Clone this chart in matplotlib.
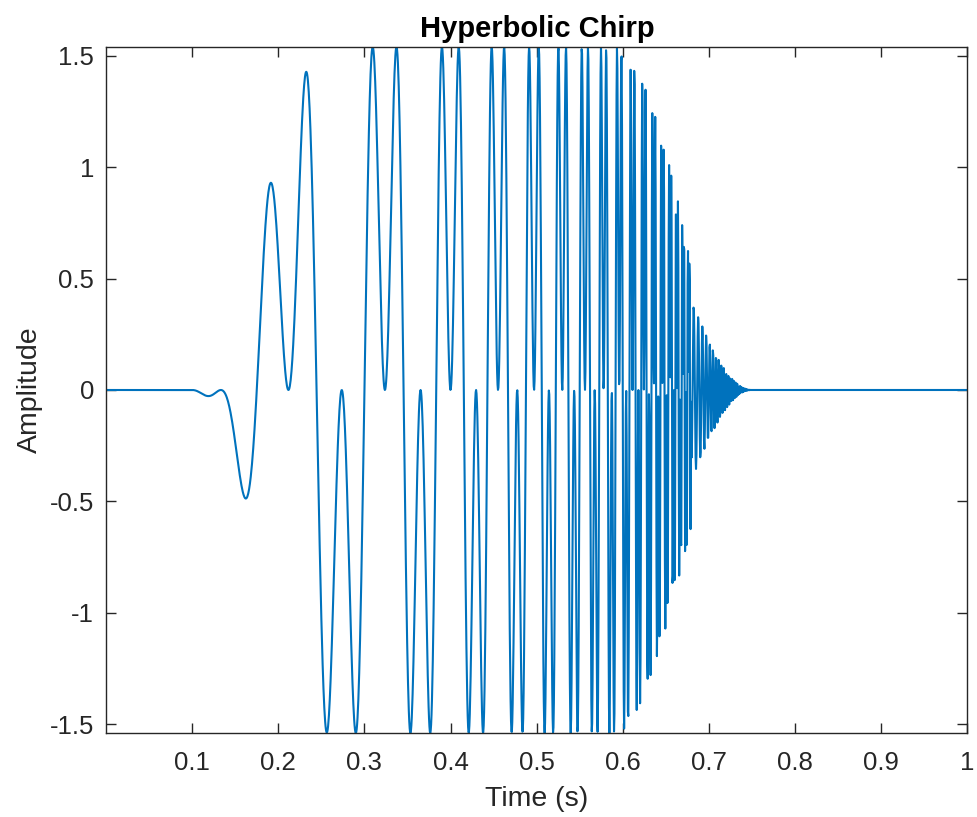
import numpy as np
import matplotlib
matplotlib.use("Agg")
import matplotlib.pyplot as plt

fs = 2048
chirp_rates = [15 * np.pi, 5 * np.pi]   # phase = rate / (t_sing - t)
chirp_sing = 0.8
chirp_start = [0.1, 0.1]
chirp_stop = [0.68, 0.75]
taper_start = 0.1
taper_stop = 0.75
taper_len = 0.16

xticks = [0.1, 0.2, 0.3, 0.4, 0.5, 0.6, 0.7, 0.8, 0.9, 1.0]
xticklabels = ["0.1", "0.2", "0.3", "0.4", "0.5", "0.6", "0.7", "0.8", "0.9", "1"]
yticks = [-1.5, -1, -0.5, 0, 0.5, 1, 1.5]
yticklabels = ["-1.5", "-1", "-0.5", "0", "0.5", "1", "1.5"]

# time axis and the common smooth window
t = np.arange(1, fs + 1) / fs
win = np.zeros_like(t)
rise = (t >= taper_start) & (t < taper_start + taper_len)
flat = (t >= taper_start + taper_len) & (t <= taper_stop - taper_len)
fall = (t > taper_stop - taper_len) & (t <= taper_stop)
win[rise] = np.sin(np.pi / 2 * (t[rise] - taper_start) / taper_len) ** 2
win[flat] = 1.0
win[fall] = np.sin(np.pi / 2 * (taper_stop - t[fall]) / taper_len) ** 2

x = np.zeros_like(t)
for rate, a, b in zip(chirp_rates, chirp_start, chirp_stop):
    on = (t > a) & (t < b)
    x[on] += np.sin(rate / (chirp_sing - t[on])) * win[on]

plt.rcParams['font.family'] = ['Liberation Sans', 'DejaVu Sans']
grey = '#262626'

fig = plt.figure(figsize=(9.77, 8.17), dpi=100)
ax = fig.add_axes([0.109, 0.1028, 0.8810, 0.8397])
ax.plot(t, x, color='#0072BD', linewidth=1.5)

ax.set_xlim(t[0], t[-1])
ax.set_ylim(x.min(), x.max())
ax.set_xticks(xticks)
ax.set_xticklabels(xticklabels)
ax.set_yticks(yticks)
ax.set_yticklabels(yticklabels)

ax.tick_params(direction='in', length=7, width=1, colors=grey, labelsize=18.5,
               top=True, right=True)
ax.tick_params(axis='x', pad=13)
ax.tick_params(axis='y', pad=9)
for s in ax.spines.values():
    s.set_color(grey)
    s.set_linewidth(1)

ax.set_title('Hyperbolic Chirp', fontsize=21, fontweight='bold', color='black', pad=7)
ax.set_xlabel('Time (s)', fontsize=20.5, color=grey, labelpad=8)
ax.set_ylabel('Amplitude', fontsize=20.5, color=grey, labelpad=5)

fig.savefig('out.png', dpi=100)
